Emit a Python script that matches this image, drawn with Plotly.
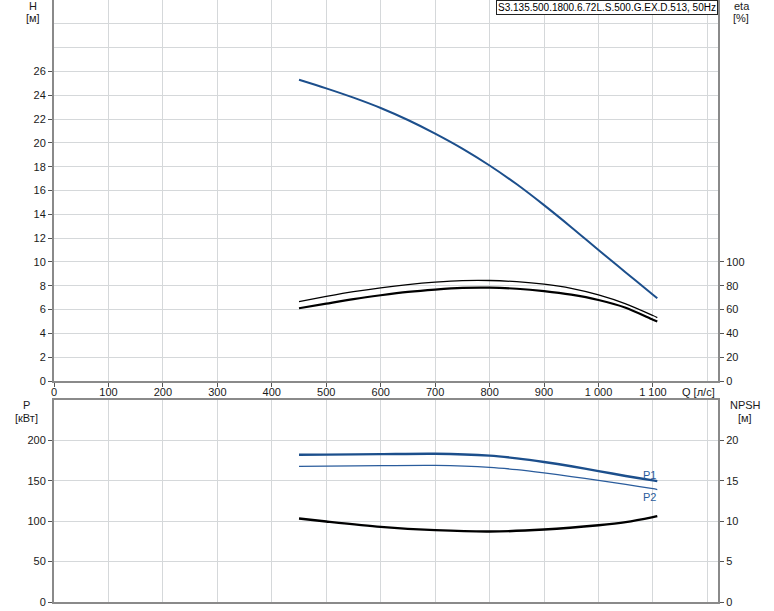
import plotly.graph_objects as go

# ---------------- data ----------------
q_h = [450, 500, 550, 600, 650, 700, 750, 800, 850, 900, 950, 1000, 1050, 1100, 1108]
head = [25.3, 24.58, 23.8, 22.93, 21.92, 20.78, 19.52, 18.1, 16.52, 14.77, 12.92, 11.0, 9.12, 7.25, 6.95]

q_eta = [450, 500, 550, 600, 650, 700, 750, 800, 850, 900, 950, 1000, 1050, 1100, 1108]
eta_upper = [66.7, 71.0, 75.0, 78.3, 81.0, 83.0, 84.3, 84.4, 83.4, 81.3, 77.8, 72.3, 64.8, 55.0, 53.3]
eta_lower = [61.1, 65.0, 68.8, 72.0, 74.8, 76.8, 78.2, 78.4, 77.5, 75.5, 72.5, 68.0, 61.5, 51.5, 50.0]

q_p = [450, 500, 600, 700, 800, 850, 900, 950, 1000, 1050, 1100, 1108]
p1 = [182.3, 182.4, 183.0, 183.5, 181.1, 177.8, 173.3, 168.0, 162.0, 156.0, 150.5, 149.6]
p2 = [167.9, 168.2, 168.7, 169.0, 166.7, 163.8, 159.8, 155.3, 150.5, 145.5, 140.2, 139.2]

q_npsh = [450, 500, 600, 700, 800, 900, 1000, 1050, 1100, 1108]
npsh = [10.33, 9.96, 9.3, 8.89, 8.72, 8.97, 9.5, 9.88, 10.5, 10.62]

q_ticks = [0, 100, 200, 300, 400, 500, 600, 700, 800, 900, 1000, 1100]
q_ticktext = ["0", "100", "200", "300", "400", "500", "600", "700", "800", "900", "1 000", "1 100"]
h_ticks = [0, 2, 4, 6, 8, 10, 12, 14, 16, 18, 20, 22, 24, 26]
eta_ticks = [0, 20, 40, 60, 80, 100]
p_ticks = [0, 50, 100, 150, 200]
npsh_ticks = [0, 5, 10, 15, 20]

title_text = "S3.135.500.1800.6.72L.S.500.G.EX.D.513, 50Hz"

# ---------------- styles ----------------
FONT = "Arial, 'Liberation Sans', sans-serif"
BLUE = "#1c4f8c"
BLUE2 = "#2a5c9c"
AXIS = "#8a8a8a"
GRID = "#d5d8da"
TXT = "#1a1a1a"

fig = go.Figure()
fig.add_trace(go.Scatter(x=q_h, y=head, mode="lines", line=dict(color=BLUE, width=2, shape="spline", smoothing=1),
                         xaxis="x", yaxis="y", showlegend=False, hoverinfo="skip"))
fig.add_trace(go.Scatter(x=q_eta, y=eta_upper, mode="lines", line=dict(color="black", width=1.3, shape="spline", smoothing=0.8),
                         xaxis="x", yaxis="y2", showlegend=False, hoverinfo="skip"))
fig.add_trace(go.Scatter(x=q_eta, y=eta_lower, mode="lines", line=dict(color="black", width=2.2, shape="spline", smoothing=0.8),
                         xaxis="x", yaxis="y2", showlegend=False, hoverinfo="skip"))
fig.add_trace(go.Scatter(x=q_p, y=p1, mode="lines", line=dict(color=BLUE, width=2.4, shape="spline", smoothing=0.8),
                         xaxis="x2", yaxis="y3", showlegend=False, hoverinfo="skip"))
fig.add_trace(go.Scatter(x=q_p, y=p2, mode="lines", line=dict(color=BLUE2, width=1.3, shape="spline", smoothing=0.8),
                         xaxis="x2", yaxis="y3", showlegend=False, hoverinfo="skip"))
fig.add_trace(go.Scatter(x=q_npsh, y=npsh, mode="lines", line=dict(color="black", width=2.4, shape="spline", smoothing=0.8),
                         xaxis="x2", yaxis="y4", showlegend=False, hoverinfo="skip"))

tickfont = dict(family=FONT, size=11, color=TXT)
common = dict(showline=True, linecolor=AXIS, linewidth=2, gridcolor=GRID, gridwidth=1,
              ticks="outside", ticklen=4, tickcolor="#555555", tickfont=tickfont, zeroline=False,
              fixedrange=True, automargin=False)
common_nogrid = {k: v for k, v in common.items() if k != "gridcolor"}

TOP_DOM = [1 - 381 / 602, 1]
BOT_DOM = [0, 202 / 602]

fig.update_layout(
    template="none",
    width=774, height=611, autosize=False,
    margin=dict(l=54, r=56, t=0, b=9, pad=0),
    paper_bgcolor="white", plot_bgcolor="white",
    font=dict(family=FONT, size=11, color=TXT),
    xaxis=dict(**common, domain=[0, 1], anchor="y", range=[0, 1219.5],
               tickmode="array", tickvals=q_ticks, ticktext=q_ticktext, ticklabelstandoff=-4,
               minor=dict(tickmode="array", tickvals=[1200], showgrid=True, gridcolor=GRID, ticks="")),
    yaxis=dict(**common, domain=TOP_DOM, anchor="x", range=[0, 32],
               tickmode="array", tickvals=h_ticks,
               minor=dict(tickmode="array", tickvals=[28, 30], showgrid=True, gridcolor=GRID, ticks="")),
    yaxis2=dict(**common_nogrid, overlaying="y", side="right",
                anchor="x", range=[0, 320], tickmode="array", tickvals=eta_ticks, showgrid=False),
    xaxis2=dict(**common, domain=[0, 1], anchor="y3", matches="x", range=[0, 1219.5],
                tickmode="array", tickvals=q_ticks, showticklabels=False, mirror=True,
                minor=dict(tickmode="array", tickvals=[1200], showgrid=True, gridcolor=GRID, ticks="")),
    yaxis3=dict(**common, domain=BOT_DOM, anchor="x2", range=[0, 250],
                tickmode="array", tickvals=p_ticks),
    yaxis4=dict(**common_nogrid, overlaying="y3", side="right",
                anchor="x2", range=[0, 25], tickmode="array", tickvals=npsh_ticks, showgrid=False),
)
fig.update_layout(xaxis2_ticks="")


def px_x(px):
    return (px - 54) / 664.0


def px_y(py):
    return 1 - py / 602.0


labels = [
    ("H", 33, 5.5, TXT), ("[м]", 33, 17.5, TXT),
    ("eta", 741.5, 6, TXT), ("[%]", 741, 18, TXT),
    ("P", 26.7, 405, TXT), ("[кВт]", 26.7, 417.5, TXT),
    ("NPSH", 745.7, 404.5, TXT), ("[м]", 745, 417.5, TXT),
    ("Q [л/с]", 698, 391.5, TXT),
    ("P1", 649, 475, BLUE2), ("P2", 649, 497, BLUE2),
]
for text, x, y, col in labels:
    fig.add_annotation(text=text, x=px_x(x), y=px_y(y), xref="paper", yref="paper",
                       xanchor="center", yanchor="middle", showarrow=False,
                       font=dict(family=FONT, size=11, color=col))

fig.add_annotation(text=title_text, x=1, y=1, xref="paper", yref="paper",
                   xanchor="right", yanchor="top", showarrow=False,
                   font=dict(family=FONT, size=10, color="black"),
                   bordercolor="#222222", borderwidth=1, borderpad=1, bgcolor="white")

fig.write_html("out.html",
               config={"displayModeBar": False, "staticPlot": True},
               post_script="document.body.style.margin='0';document.body.style.padding='0';"
                           "document.documentElement.style.overflow='hidden';")
